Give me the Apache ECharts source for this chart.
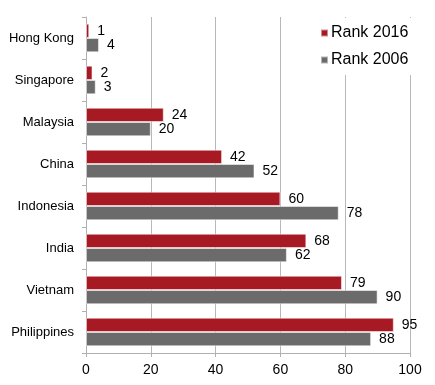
<!DOCTYPE html>
<html>
<head>
<meta charset="utf-8">
<script src="https://cdn.jsdelivr.net/npm/echarts@6/dist/echarts.min.js"></script>
<style>html,body{margin:0;padding:0;background:#fff}#c{width:435px;height:385px}</style>
</head>
<body>
<div id="c"></div>
<script>
var categories = ['Hong Kong','Singapore','Malaysia','China','Indonesia','India','Vietnam','Philippines'];
var rank2016 = [1,2,24,42,60,68,79,95];
var rank2006 = [4,3,20,52,78,62,90,88];
var xTicks = [0,20,40,60,80,100];

var chart = echarts.init(document.getElementById('c'));
var font = 'Liberation Sans, Arial, Helvetica, sans-serif';
chart.setOption({
  animation: false,
  backgroundColor: '#fff',
  textStyle: {fontFamily: font},
  grid: {left: 86, right: 25, top: 17, bottom: 32, containLabel: false},
  legend: {
    orient: 'vertical', left: 314, top: 18, itemWidth: 7, itemHeight: 7, itemGap: 11,
    icon: 'rect',
    backgroundColor: '#fff', padding: [7, 8, 7, 6],
    textStyle: {fontSize: 16, color: '#000', fontFamily: font, padding: [0, 0, 0, -2]},
    data: ['Rank 2016', 'Rank 2006']
  },
  xAxis: {
    type: 'value', min: xTicks[0], max: xTicks[xTicks.length-1], interval: 20,
    axisLine: {show: true, lineStyle: {color: '#b0b0b0'}},
    axisTick: {show: true, length: 4, lineStyle: {color: '#b0b0b0'}},
    axisLabel: {fontSize: 14, color: '#000', margin: 10, fontFamily: font},
    splitLine: {show: true, lineStyle: {color: '#b8b8b8'}}
  },
  yAxis: {
    type: 'category', data: categories, inverse: true,
    axisLine: {show: true, lineStyle: {color: '#b0b0b0'}},
    axisTick: {show: true, length: 4, lineStyle: {color: '#b0b0b0'}},
    axisLabel: {fontSize: 13, color: '#000', margin: 12, fontFamily: font}
  },
  series: [
    {name: 'Rank 2016', type: 'bar', data: rank2016, barGap: '0%', barCategoryGap: '32%',
     itemStyle: {color: '#a71a24', borderColor: 'rgba(255,255,255,0.5)', borderWidth: 1},
     label: {show: true, position: 'right', distance: 8, fontSize: 14, color: '#000', fontFamily: font}},
    {name: 'Rank 2006', type: 'bar', data: rank2006, barGap: '0%', barCategoryGap: '32%',
     itemStyle: {color: '#6b6b6b', borderColor: 'rgba(255,255,255,0.5)', borderWidth: 1},
     label: {show: true, position: 'right', distance: 8, fontSize: 14, color: '#000', fontFamily: font}}
  ]
});
</script>
</body>
</html>
